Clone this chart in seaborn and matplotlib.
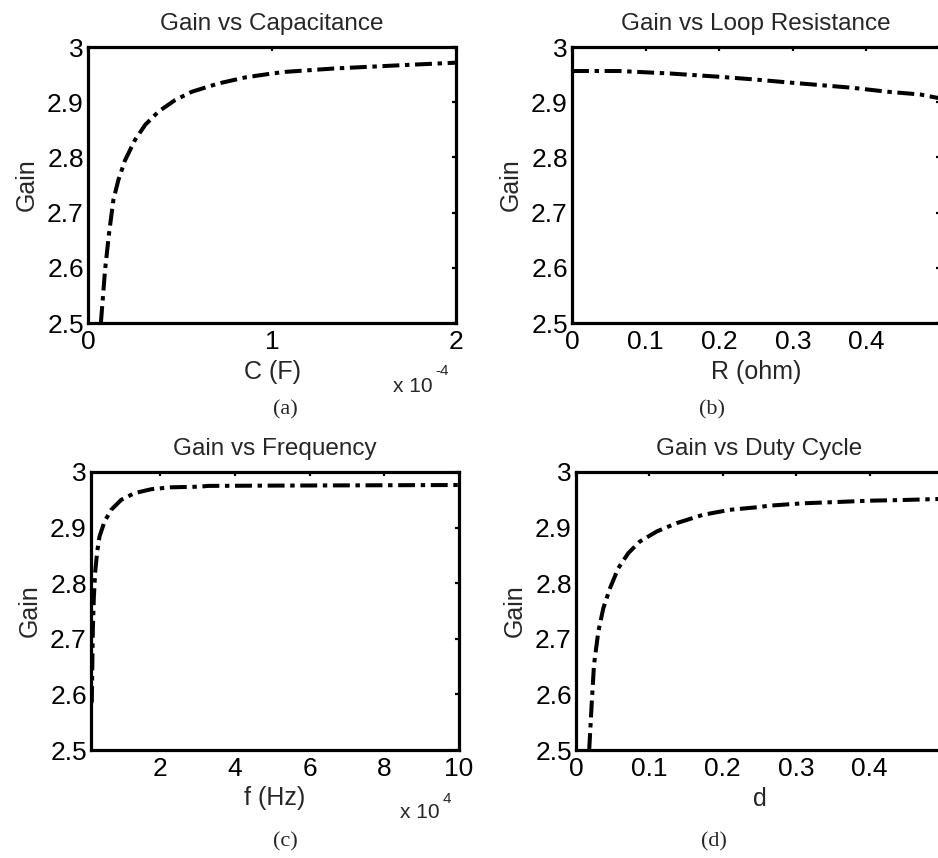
import matplotlib
matplotlib.use("Agg")
import matplotlib.pyplot as plt
import seaborn as sns
from matplotlib.ticker import FuncFormatter

# ------------------------------------------------------------
# data
# ------------------------------------------------------------
cap_C = [0.07e-4, 0.0926e-4, 0.1144e-4, 0.138e-4, 0.165e-4, 0.2016e-4, 0.256e-4,
         0.311e-4, 0.383e-4, 0.474e-4, 0.565e-4, 0.71e-4, 0.856e-4, 1.0e-4,
         1.074e-4, 1.335e-4, 1.70e-4, 2.0e-4]
cap_gain = [2.5, 2.596, 2.6625, 2.723, 2.759, 2.795, 2.832, 2.859, 2.883, 2.904,
            2.919, 2.934, 2.945, 2.952, 2.955, 2.961, 2.967, 2.9716]

res_R = [0.0, 0.065, 0.133, 0.201, 0.246, 0.292, 0.337, 0.382, 0.428, 0.473, 0.5]
res_gain = [2.9565, 2.9565, 2.952, 2.946, 2.9414, 2.936, 2.931, 2.926, 2.919,
            2.914, 2.907]

freq_f = [1500, 1716, 1980, 2250, 2630, 3160, 3780, 5120, 6900, 9600, 13160,
          17600, 20000, 23000, 30600, 32800, 48500, 100000]
freq_gain = [2.585, 2.587, 2.713, 2.773, 2.821, 2.857, 2.884, 2.911, 2.932, 2.950,
             2.962, 2.969, 2.9706, 2.9725, 2.9736, 2.975, 2.9755, 2.9766]

duty_d = [0.018, 0.0213, 0.0245, 0.0304, 0.0372, 0.0463, 0.0576, 0.0712, 0.087,
          0.110, 0.137, 0.173, 0.2095, 0.2458, 0.264, 0.309, 0.355, 0.40, 0.445,
          0.4925, 0.5]
duty_gain = [2.5, 2.581, 2.653, 2.713, 2.755, 2.791, 2.827, 2.854, 2.875, 2.893,
             2.908, 2.923, 2.932, 2.9365, 2.9395, 2.9437, 2.946, 2.9484, 2.9496,
             2.9514, 2.952]

gain_ticks = [2.5, 2.6, 2.7, 2.8, 2.9, 3.0]

# ------------------------------------------------------------
# style
# ------------------------------------------------------------
sns.set_style("white")
plt.rcParams["font.family"] = ["Liberation Sans", "DejaVu Sans"]

W, H = 938, 858
fig = plt.figure(figsize=(W / 100, H / 100), dpi=100)


def box(left, top, right, bottom):
    return [left / W, 1 - bottom / H, (right - left) / W, (bottom - top) / H]


TICK_FS = 19
LABEL_FS = 18
TITLE_FS = 17.5
LINE = (0, (4.2, 1.4, 1.1, 1.4))


def panel(pos, x, y, title, xlabel, xlim, xticks, xfmt):
    ax = fig.add_axes(box(*pos))
    sns.lineplot(x=x, y=y, ax=ax, color="black", linewidth=2.9, linestyle=LINE,
                 sort=False)
    ax.set_xlim(*xlim)
    ax.set_ylim(2.5, 3.0)
    ax.set_yticks(gain_ticks)
    ax.yaxis.set_major_formatter(FuncFormatter(lambda v, p: "%g" % round(v, 2)))
    ax.set_xticks(xticks)
    ax.xaxis.set_major_formatter(FuncFormatter(xfmt))
    ax.tick_params(direction="in", top=True, right=True, length=3, width=1.6,
                   labelsize=TICK_FS, colors="black")
    ax.tick_params(axis="x", pad=5)
    ax.tick_params(axis="y", pad=3)
    for s in ax.spines.values():
        s.set_linewidth(2.3)
        s.set_color("black")
    ax.set_title(title, fontsize=TITLE_FS, pad=12)
    ax.set_xlabel(xlabel, fontsize=LABEL_FS, labelpad=4)
    ax.set_ylabel("Gain", fontsize=LABEL_FS, labelpad=6)
    return ax


ax_a = panel((88, 47, 456, 323), cap_C, cap_gain, "Gain vs Capacitance", "C (F)",
             (0, 2e-4), [0, 1e-4, 2e-4], lambda v, p: "%g" % round(v * 1e4, 3))
ax_b = panel((572, 47, 940, 323), res_R, res_gain, "Gain vs Loop Resistance",
             "R (ohm)", (0, 0.5), [0, 0.1, 0.2, 0.3, 0.4, 0.5],
             lambda v, p: "" if v > 0.45 else "%g" % round(v, 2))
ax_c = panel((91, 472, 459, 750), freq_f, freq_gain, "Gain vs Frequency", "f (Hz)",
             (1500, 1e5), [2e4, 4e4, 6e4, 8e4, 1e5],
             lambda v, p: "%g" % round(v / 1e4, 3))
ax_d = panel((576, 472, 943, 750), duty_d, duty_gain, "Gain vs Duty Cycle", "d",
             (0, 0.5), [0, 0.1, 0.2, 0.3, 0.4, 0.5],
             lambda v, p: "" if v > 0.45 else "%g" % round(v, 2))

# MATLAB style exponent labels
ax_a.text(0.829, -0.25, "x 10", transform=ax_a.transAxes, fontsize=15,
          ha="left", va="baseline")
ax_a.text(0.945, -0.19, "-4", transform=ax_a.transAxes, fontsize=11,
          ha="left", va="baseline")
ax_c.text(0.84, -0.245, "x 10", transform=ax_c.transAxes, fontsize=15,
          ha="left", va="baseline")
ax_c.text(0.955, -0.19, "4", transform=ax_c.transAxes, fontsize=11,
          ha="left", va="baseline")

# sub-captions
for lab, (cx, cy) in zip(["(a)", "(b)", "(c)", "(d)"],
                         [(285, 410), (712, 410), (285, 842), (714, 842)]):
    fig.text(cx / W, 1 - cy / H, lab, family=["Liberation Serif", "DejaVu Serif"],
             fontsize=16, ha="center", va="center")

fig.savefig("out.png", dpi=100)
